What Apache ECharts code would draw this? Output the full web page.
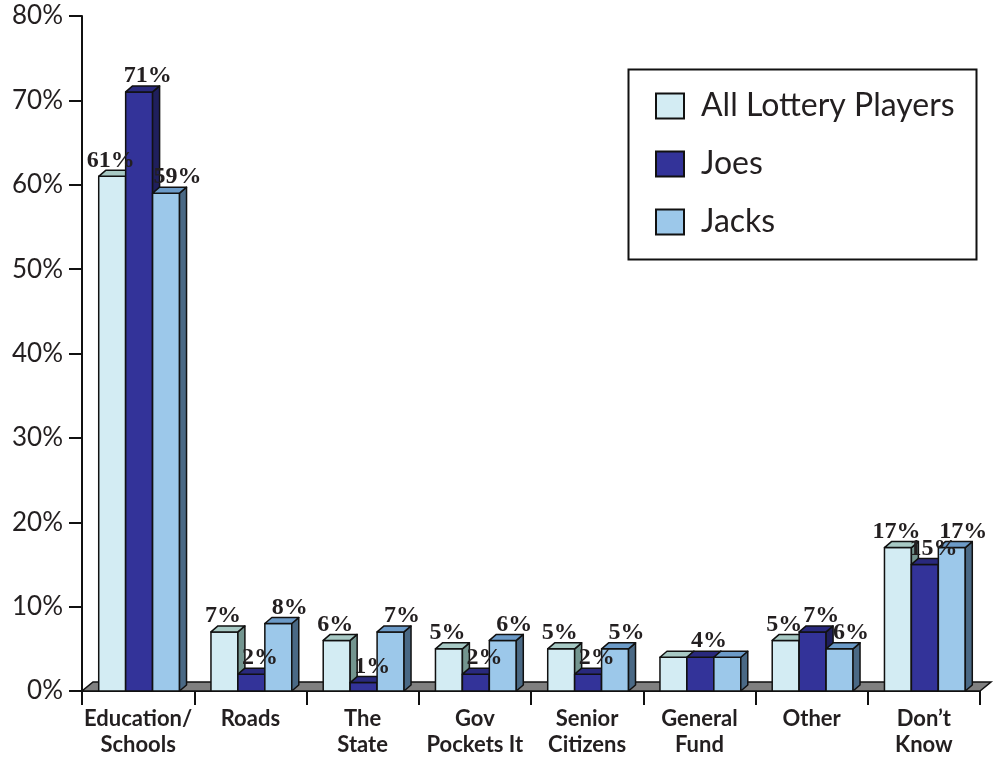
<!DOCTYPE html>
<html>
<head>
<meta charset="utf-8">
<script src="https://cdn.jsdelivr.net/npm/echarts@6/dist/echarts.min.js"></script>
<style>
  html, body { margin: 0; padding: 0; background: #ffffff; }
  #chart { width: 997px; height: 758px; }
</style>
</head>
<body>
<div id="chart"></div>
<script>
const categories = ['Education/\nSchools', 'Roads', 'The\nState', 'Gov\nPockets It', 'Senior\nCitizens', 'General\nFund', 'Other', 'Don\u2019t\nKnow'];
const seriesNames = ['All Lottery Players', 'Joes', 'Jacks'];
const allPlayers = [61, 7, 6, 5, 5, 4, 6, 17];
const joes       = [71, 2, 1, 2, 2, 4, 7, 15];
const jacks      = [59, 8, 7, 6, 5, 4, 5, 17];
const allLabels   = ['61%', '7%', '6%', '5%', '5%', '', '5%', '17%'];
const joesLabels  = ['71%', '2%', '1%', '2%', '2%', '4%', '7%', '15%'];
const jacksLabels = ['59%', '8%', '7%', '6%', '5%', '', '6%', '17%'];
const yMin = 0, yMax = 80, yStep = 10;

const TEXT = '#231f20';
const DX = 7, DY = -6;
const palettes = [
  { front: '#d3ecf3', side: '#73958f', top: '#a7c9c4', labelShift: -5 },
  { front: '#333399', side: '#1f1f5c', top: '#29297d', labelShift: 5 },
  { front: '#9cc8ea', side: '#4a6985', top: '#6c9bc8', labelShift: 8 }
];
const valueSets = [allPlayers, joes, jacks];
const labelSets = [allLabels, joesLabels, jacksLabels];

function makeBarRenderer(si) {
  const pal = palettes[si];
  return function (params, api) {
    const ci = api.value(0);
    const v = api.value(1);
    const base = api.coord([ci, 0]);
    const top = api.coord([ci, v]);
    const band = api.size([1, 0])[0];
    const bw = band * 0.24;
    const x = base[0] - 1.5 * bw + 1 + si * bw;
    const yb = base[1], yt = top[1];
    const stroke = { stroke: '#111', lineWidth: 1.5, lineJoin: 'round' };
    const children = [
      { type: 'rect', z2: si * 3,
        shape: { x: x, y: yt, width: bw, height: yb - yt },
        style: Object.assign({ fill: pal.front }, stroke) },
      { type: 'polygon', z2: si * 3 + 1,
        shape: { points: [[x + bw, yt], [x + bw + DX, yt + DY], [x + bw + DX, yb + DY], [x + bw, yb]] },
        style: Object.assign({ fill: pal.side }, stroke) },
      { type: 'polygon', z2: si * 3 + 2,
        shape: { points: [[x, yt], [x + DX, yt + DY], [x + bw + DX, yt + DY], [x + bw, yt]] },
        style: Object.assign({ fill: pal.top }, stroke) }
    ];
    const txt = labelSets[si][ci];
    if (txt) {
      children.push({
        type: 'text', z2: 100,
        style: {
          text: txt,
          x: x + bw / 2 + DX / 2 + pal.labelShift,
          y: yt + DY + 2,
          align: 'center', verticalAlign: 'bottom',
          font: 'bold 24px "Liberation Serif", "Times New Roman", serif',
          fill: TEXT
        }
      });
    }
    return { type: 'group', children: children };
  };
}

const barSeries = seriesNames.map(function (name, si) {
  return {
    name: name,
    type: 'custom',
    renderItem: makeBarRenderer(si),
    itemStyle: { color: palettes[si].front, borderColor: '#111', borderWidth: 2 },
    encode: { x: 0, y: 1 },
    data: valueSets[si].map(function (v, i) { return [i, v]; }),
    z: 3
  };
});

const floorSeries = {
  name: 'floor',
  type: 'custom',
  silent: true,
  z: 2,
  renderItem: function (params, api) {
    const cs = params.coordSys;
    const yb = cs.y + cs.height;
    return {
      type: 'polygon',
      shape: { points: [[cs.x, yb], [cs.x + cs.width, yb], [cs.x + cs.width + 11, yb - 9], [cs.x + 11, yb - 9]] },
      style: { fill: '#808080', stroke: '#111', lineWidth: 1.5 }
    };
  },
  data: [[0, 0]]
};

const chart = echarts.init(document.getElementById('chart'), null, { renderer: 'canvas' });
chart.setOption({
  animation: false,
  backgroundColor: '#ffffff',
  grid: { left: 82, width: 898, top: 16, height: 683 },
  xAxis: {
    type: 'category',
    data: categories,
    boundaryGap: true,
    axisLine: { lineStyle: { color: '#111', width: 2 } },
    axisTick: { show: true, interval: 0, length: 14, lineStyle: { color: '#111', width: 2 } },
    axisLabel: {
      interval: 0, margin: 15, color: TEXT,
      fontFamily: 'Lato', fontWeight: 'bold', fontSize: 22, lineHeight: 26
    },
    splitLine: { show: false }
  },
  yAxis: {
    type: 'value',
    min: yMin, max: yMax, interval: yStep,
    axisLine: { show: true, lineStyle: { color: '#111', width: 2 } },
    axisTick: { show: true, length: 13, lineStyle: { color: '#111', width: 2 } },
    axisLabel: {
      margin: 19, color: TEXT, fontFamily: 'Lato', fontSize: 26,
      formatter: function (v) { return v + '%'; }
    },
    splitLine: { show: false }
  },
  legend: {
    data: seriesNames.map(function (n, si) {
      return { name: n, icon: 'rect', itemStyle: { color: palettes[si].front, borderColor: '#111', borderWidth: 2 } };
    }),
    orient: 'vertical',
    left: 655, top: 90,
    padding: 0,
    itemWidth: 28, itemHeight: 25, itemGap: 26,
    selectedMode: false,
    textStyle: { color: TEXT, fontFamily: 'Lato', fontSize: 32, lineHeight: 25, padding: [0, 0, 0, 12] }
  },
  graphic: [{
    type: 'rect', left: 626, top: 67, z: 10,
    shape: { width: 348, height: 190 },
    style: { fill: 'none', stroke: '#111', lineWidth: 2 }
  }],
  series: [floorSeries].concat(barSeries)
});
</script>
</body>
</html>
